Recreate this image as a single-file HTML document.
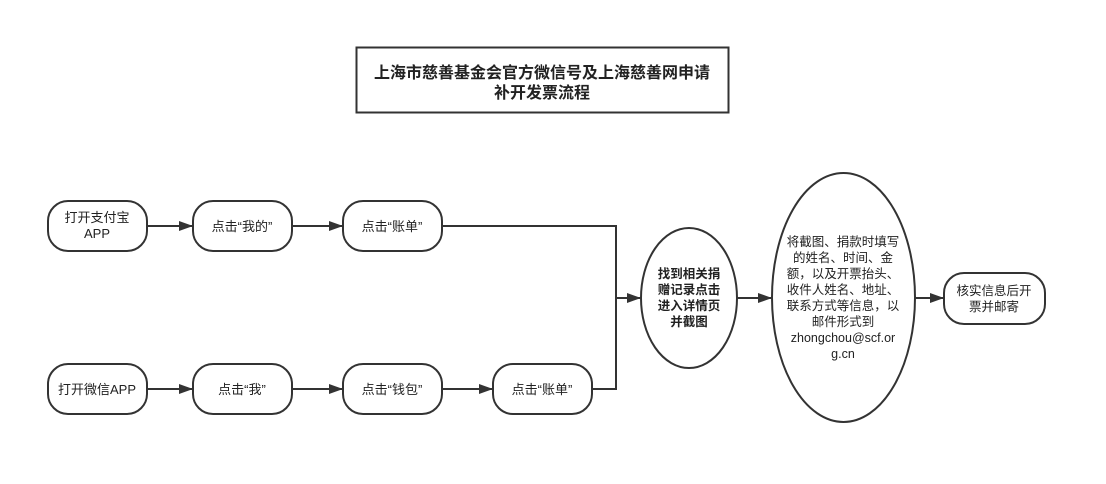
<!DOCTYPE html>
<html><head><meta charset="utf-8">
<style>
html,body{margin:0;padding:0;background:#fff;width:1106px;height:484px;overflow:hidden}
svg{display:block}
text{font-family:"Liberation Sans","Noto Sans CJK SC",sans-serif;fill:#222}
</style></head><body>
<svg width="1106" height="484" viewBox="0 0 1106 484" xmlns="http://www.w3.org/2000/svg">
<defs>
<marker id="a" markerWidth="14" markerHeight="10" refX="13" refY="5" orient="auto" markerUnits="userSpaceOnUse">
<path d="M0,0 L14,5 L0,10 z" fill="#333"/>
</marker>
</defs>
<g fill="#fff" stroke="#333" stroke-width="2">
<rect x="356.5" y="47.5" width="372" height="65"/>
<rect x="48" y="201" width="99" height="50" rx="20"/>
<rect x="193" y="201" width="99" height="50" rx="20"/>
<rect x="343" y="201" width="99" height="50" rx="20"/>
<rect x="48" y="364" width="99" height="50" rx="20"/>
<rect x="193" y="364" width="99" height="50" rx="20"/>
<rect x="343" y="364" width="99" height="50" rx="20"/>
<rect x="493" y="364" width="99" height="50" rx="20"/>
<ellipse cx="689" cy="298" rx="48" ry="70"/>
<ellipse cx="843.5" cy="297.5" rx="71.5" ry="124.5"/>
<rect x="944" y="273" width="101" height="51" rx="20"/>
</g>
<g stroke="#333" stroke-width="2" fill="none">
<line x1="147" y1="226" x2="192" y2="226" marker-end="url(#a)"/>
<line x1="292" y1="226" x2="342" y2="226" marker-end="url(#a)"/>
<line x1="147" y1="389" x2="192" y2="389" marker-end="url(#a)"/>
<line x1="292" y1="389" x2="342" y2="389" marker-end="url(#a)"/>
<line x1="442" y1="389" x2="492" y2="389" marker-end="url(#a)"/>
<polyline points="442,226 616,226 616,389 592,389"/>
<line x1="616" y1="298" x2="640" y2="298" marker-end="url(#a)"/>
<line x1="737" y1="298" x2="771" y2="298" marker-end="url(#a)"/>
<line x1="915" y1="298" x2="943" y2="298" marker-end="url(#a)"/>
</g>
<g text-anchor="middle" font-size="16" font-weight="bold">
<text x="542" y="78">上海市慈善基金会官方微信号及上海慈善网申请</text>
<text x="542" y="98">补开发票流程</text>
</g>
<g text-anchor="middle" font-size="13">
<text x="97" y="222">打开支付宝</text>
<text x="97" y="238">APP</text>
<text x="242" y="231">点击“我的”</text>
<text x="392" y="231">点击“账单”</text>
<text x="97" y="394">打开微信APP</text>
<text x="242" y="394">点击“我”</text>
<text x="392" y="394">点击“钱包”</text>
<text x="542" y="394">点击“账单”</text>
</g>
<g text-anchor="middle" font-size="12.5" font-weight="bold">
<text x="689" y="278">找到相关捐</text>
<text x="689" y="294">赠记录点击</text>
<text x="689" y="310">进入详情页</text>
<text x="689" y="326">并截图</text>
</g>
<g text-anchor="middle" font-size="12.5">
<text x="843" y="246">将截图、捐款时填写</text>
<text x="843" y="262">的姓名、时间、金</text>
<text x="843" y="278">额，以及开票抬头、</text>
<text x="843" y="294">收件人姓名、地址、</text>
<text x="843" y="310">联系方式等信息，以</text>
<text x="843" y="326">邮件形式到</text>
<text x="843" y="342">zhongchou@scf.or</text>
<text x="843" y="358">g.cn</text>
<text x="994" y="295">核实信息后开</text>
<text x="994" y="311">票并邮寄</text>
</g>
</svg>
</body></html>
